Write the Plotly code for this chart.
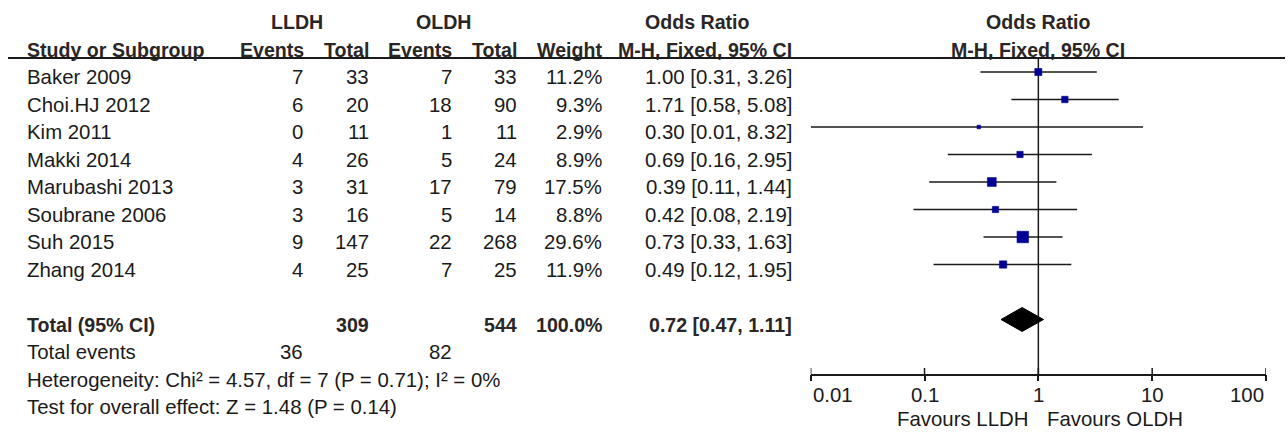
import numpy as np
import plotly.graph_objects as go

# ---- study data -------------------------------------------------------------
studies = ["Baker 2009", "Choi.HJ 2012", "Kim 2011", "Makki 2014",
           "Marubashi 2013", "Soubrane 2006", "Suh 2015", "Zhang 2014"]
lldh_events = [7, 6, 0, 4, 3, 3, 9, 4]
lldh_total = [33, 20, 11, 26, 31, 16, 147, 25]
oldh_events = [7, 18, 1, 5, 17, 5, 22, 7]
oldh_total = [33, 90, 11, 24, 79, 14, 268, 25]
weights = [11.2, 9.3, 2.9, 8.9, 17.5, 8.8, 29.6, 11.9]
odds_ratio = [1.00, 1.71, 0.30, 0.69, 0.39, 0.42, 0.73, 0.49]
ci_low = [0.31, 0.58, 0.01, 0.16, 0.11, 0.08, 0.33, 0.12]
ci_high = [3.26, 5.08, 8.32, 2.95, 1.44, 2.19, 1.63, 1.95]

# pooled result
total_lldh = 309
total_oldh = 544
total_weight = "100.0%"
pooled_or = 0.72
pooled_low = 0.47
pooled_high = 1.11
events_lldh = 36
events_oldh = 82
heterogeneity = "Heterogeneity: Chi\u00b2 = 4.57, df = 7 (P = 0.71); I\u00b2 = 0%"
overall_test = "Test for overall effect: Z = 1.48 (P = 0.14)"

tick_values = [0.01, 0.1, 1, 10, 100]
tick_labels = ["0.01", "0.1", "1", "10", "100"]

# ---- page geometry ----------------------------------------------------------
W, H = 1288, 432
ROW0, ROW_H = 72, 27.5          # pixel y of first study row, row pitch
AXIS_Y = 374.5                  # pixel y of the x axis line
TEXT_DY = -5                    # table text sits slightly below the CI lines
PAD = 2                         # annotation box padding compensation
FONT = "Liberation Sans, Arial, sans-serif"
TXT = "#1a1a1a"
HDR = "#2a2626"
REG, BOLD = 20.4, 19.6


def px(x):
    return x / W


def py(y):
    return 1 - y / H


def row_of(ypix):
    return (ypix - ROW0) / ROW_H


fig = go.Figure()

rows = list(range(len(studies)))
total_row = 9
axis_row = row_of(AXIS_Y)

# reference line at OR = 1
fig.add_trace(go.Scatter(x=[1, 1], y=[row_of(58), axis_row], mode="lines",
                         line=dict(color=TXT, width=1.5), hoverinfo="skip",
                         cliponaxis=False))

# confidence intervals
cx, cy = [], []
for r, lo, hi in zip(rows, ci_low, ci_high):
    cx += [lo, hi, None]
    cy += [r, r, None]
fig.add_trace(go.Scatter(x=cx, y=cy, mode="lines",
                         line=dict(color=TXT, width=1.6), hoverinfo="skip",
                         cliponaxis=False))

# point estimates, box size scaled by weight
sizes = [11.5 * np.sqrt(w / max(weights)) for w in weights]
fig.add_trace(go.Scatter(x=odds_ratio, y=rows, mode="markers",
                         marker=dict(symbol="square", size=sizes, color="#000096",
                                     opacity=1, line=dict(width=0.6, color="#000096")),
                         cliponaxis=False))

# pooled diamond
half = 12 / ROW_H
fig.add_trace(go.Scatter(x=[pooled_low, pooled_or, pooled_high, pooled_or, pooled_low],
                         y=[total_row, total_row - half, total_row, total_row + half, total_row],
                         mode="lines", fill="toself", fillcolor="#000000",
                         line=dict(color="#000000", width=1), hoverinfo="skip",
                         cliponaxis=False))

# upper halves of the axis ticks
tx, ty = [], []
for v in tick_values:
    tx += [v, v, None]
    ty += [axis_row, axis_row - 6.5 / ROW_H, None]
fig.add_trace(go.Scatter(x=tx, y=ty, mode="lines",
                         line=dict(color=TXT, width=1.5), hoverinfo="skip",
                         cliponaxis=False))

annotations = []


def text(xpix, row, s, anchor="right", bold=False):
    shift = {"left": -PAD, "right": PAD}.get(anchor, 0)
    annotations.append(dict(
        x=px(xpix + shift), y=row, xref="paper", yref="y",
        text=f"<b>{s}</b>" if bold else s,
        showarrow=False, xanchor=anchor, yanchor="middle", yshift=TEXT_DY,
        font=dict(family=FONT, size=BOLD if bold else REG, color=HDR if bold else TXT)))


def plot_header(row, s):
    annotations.append(dict(
        x=0, y=row, xref="x", yref="y", text=f"<b>{s}</b>",
        showarrow=False, xanchor="center", yanchor="middle", yshift=TEXT_DY,
        font=dict(family=FONT, size=BOLD, color=HDR)))


# column headers
text(297, -2, "LLDH", "center", True)
text(444, -2, "OLDH", "center", True)
text(697, -2, "Odds Ratio", "center", True)
plot_header(-2, "Odds Ratio")
text(27, -1, "Study or Subgroup", "left", True)
text(304, -1, "Events", "right", True)
text(369, -1, "Total", "right", True)
text(452, -1, "Events", "right", True)
text(517, -1, "Total", "right", True)
text(602, -1, "Weight", "right", True)
text(792, -1, "M-H, Fixed, 95% CI", "right", True)
plot_header(-1, "M-H, Fixed, 95% CI")

# study rows
for r in rows:
    text(27, r, studies[r], "left")
    text(303, r, str(lldh_events[r]))
    text(369, r, str(lldh_total[r]))
    text(452, r, str(oldh_events[r]))
    text(517, r, str(oldh_total[r]))
    text(602, r, f"{weights[r]:.1f}%")
    text(792, r, f"{odds_ratio[r]:.2f} [{ci_low[r]:.2f}, {ci_high[r]:.2f}]")

# totals and footnotes
text(27, total_row, "Total (95% CI)", "left", True)
text(369, total_row, str(total_lldh), "right", True)
text(517, total_row, str(total_oldh), "right", True)
text(602, total_row, total_weight, "right", True)
text(792, total_row, f"{pooled_or:.2f} [{pooled_low:.2f}, {pooled_high:.2f}]", "right", True)
text(27, total_row + 1, "Total events", "left")
text(303, total_row + 1, str(events_lldh))
text(452, total_row + 1, str(events_oldh))
text(27, total_row + 2, heterogeneity, "left")
text(27, total_row + 3, overall_test, "left")

# axis tick labels: outer ones are aligned to the axis ends
for i, (v, lab) in enumerate(zip(tick_values, tick_labels)):
    anchor = "left" if i == 0 else ("right" if i == len(tick_values) - 1 else "center")
    annotations.append(dict(x=np.log10(v), y=py(395), xref="x", yref="paper", text=lab,
                            showarrow=False, xanchor=anchor, yanchor="middle",
                            font=dict(family=FONT, size=REG, color=TXT)))

# favours labels under the axis
for xa, anchor, s in [(1030, "right", "Favours LLDH"), (1045, "left", "Favours OLDH")]:
    annotations.append(dict(x=px(xa), y=py(419), xref="paper", yref="paper", text=s,
                            showarrow=False, xanchor=anchor, yanchor="middle",
                            font=dict(family=FONT, size=REG, color=TXT)))

# header rule across the full width
shapes = [dict(type="line", xref="paper", yref="paper", x0=px(8), x1=px(1285),
               y0=py(58), y1=py(58), line=dict(color=TXT, width=2))]

fig.update_layout(
    width=W, height=H,
    margin=dict(l=0, r=0, t=0, b=0, pad=0, autoexpand=False),
    paper_bgcolor="white", plot_bgcolor="white", showlegend=False,
    annotations=annotations, shapes=shapes,
    xaxis=dict(type="log", range=[-2, 2], domain=[px(810.7), px(1266)],
               anchor="free", position=py(AXIS_Y), showline=True,
               linecolor=TXT, linewidth=1.5, ticks="outside", ticklen=6,
               tickwidth=1.5, tickcolor=TXT, tickvals=tick_values,
               showticklabels=False, showgrid=False, zeroline=False,
               automargin=False, fixedrange=True),
    yaxis=dict(range=[row_of(H), row_of(0)], domain=[0, 1], visible=False,
               automargin=False, fixedrange=True),
)

fig.write_html("out.html")
